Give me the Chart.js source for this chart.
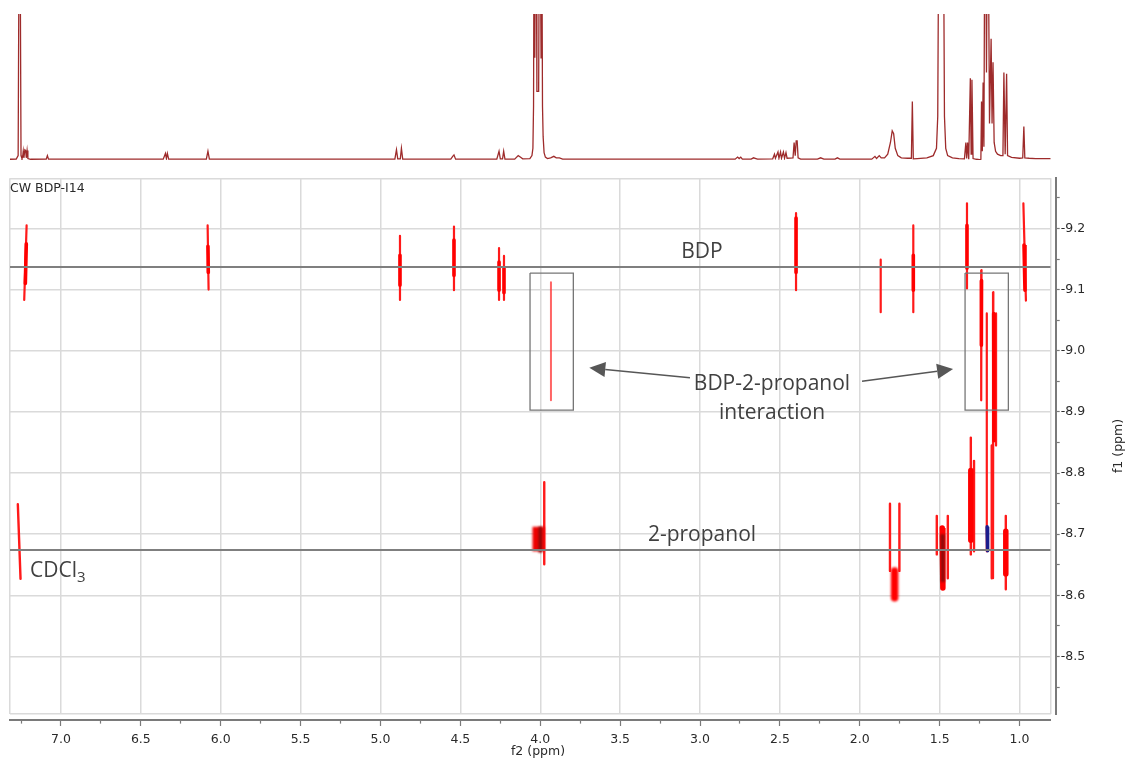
<!DOCTYPE html>
<html>
<head>
<meta charset="utf-8">
<title>DOSY – CW BDP-I14</title>
<script src="https://cdn.jsdelivr.net/npm/chart.js@4.4.1/dist/chart.umd.min.js"></script>
<style>
  html, body { margin: 0; padding: 0; background: #ffffff; }
  #wrap { position: relative; width: 1125px; height: 758px; overflow: hidden; }
  #spec { position: absolute; left: 0; top: 0; }
  #dosy { position: absolute; left: 0; top: 0; }
  .note { position: absolute; white-space: nowrap; line-height: 21px; font-family: "Open Sans", sans-serif;
          font-size: 21px; color: #404040; }
  .center { transform: translateX(-50%); }
  .small { position: absolute; white-space: nowrap; font-family: "DejaVu Sans", sans-serif; color: #2a2a2a;
           font-size: 12.5px; line-height: 14px; }
  sub { font-size: 15px; vertical-align: -5px; line-height: 0; }
</style>
</head>
<body>
<div id="wrap">
  <canvas id="spec" width="1125" height="172"></canvas>
  <canvas id="dosy" width="1125" height="758"></canvas>

  <div class="small" style="left:10px; top:181px;">CW BDP-I14</div>
  <div class="note center" style="left:702px; top:240px;">BDP</div>
  <div class="note center" style="left:702px; top:523px;">2-propanol</div>
  <div class="note center" style="left:772px; top:372px;">BDP-2-propanol</div>
  <div class="note center" style="left:772px; top:401px;">interaction</div>
  <div class="note" style="left:30px; top:559px;">CDCl<sub>3</sub></div>
  <div class="small" style="left:498px; width:80px; text-align:center; top:744px;">f2 (ppm)</div>
  <div class="small" style="left:1078px; width:80px; text-align:center; top:439px; transform:rotate(-90deg);">f1 (ppm)</div>
</div>

<script>
// ---- axis ranges and tick labels ----
const f2Min = 0.805, f2Max = 7.319;          // chemical shift (ppm), drawn high -> low
const f1Min = -9.282, f1Max = -8.406;        // log diffusion coefficient
const f2Major = [7.0, 6.5, 6.0, 5.5, 5.0, 4.5, 4.0, 3.5, 3.0, 2.5, 2.0, 1.5, 1.0];
const f2Minor = [7.25, 6.75, 6.25, 5.75, 5.25, 4.75, 4.25, 3.75, 3.25, 2.75, 2.25, 1.75, 1.25];
const f1Major = [-9.2, -9.1, -9.0, -8.9, -8.8, -8.7, -8.6, -8.5];
const f1Minor = [-9.25, -9.15, -9.05, -8.95, -8.85, -8.75, -8.65, -8.55, -8.45];

// ---- 1H projection (ppm, relative intensity; >100 runs off the top) ----
const specPpm = [
  7.319, 7.280, 7.268, 7.262, 7.256, 7.250, 7.244, 7.240, 7.236, 7.232, 7.226, 7.221, 7.217, 7.212, 7.207, 7.190,
  7.092, 7.085, 7.078, 6.360, 6.346, 6.340, 6.334, 6.326, 6.090, 6.080, 6.071,
  4.910, 4.900, 4.892, 4.876, 4.869, 4.861, 4.560, 4.548, 4.540, 4.530,
  4.272, 4.258, 4.250, 4.236, 4.229, 4.221, 4.160, 4.138, 4.125, 4.110,
  4.065, 4.052, 4.046, 4.042, 4.039, 4.034, 4.030, 4.025, 4.021, 4.010, 4.006, 4.000, 3.995, 3.990, 3.986, 3.982,
  3.976, 3.968, 3.955, 3.935, 3.915, 3.900, 3.880, 3.860,
  2.780, 2.765, 2.755, 2.745, 2.735, 2.680, 2.665, 2.650, 2.640,
  2.545, 2.534, 2.528, 2.512, 2.506, 2.496, 2.490, 2.478, 2.471, 2.462, 2.455,
  2.418, 2.411, 2.404, 2.398, 2.392, 2.386, 2.370, 2.265, 2.245, 2.225, 2.155, 2.140, 2.125,
  1.925, 1.905, 1.895, 1.878, 1.866, 1.845, 1.825, 1.808, 1.797, 1.788, 1.778, 1.762, 1.740,
  1.700, 1.677, 1.671, 1.665, 1.640, 1.580, 1.540, 1.520, 1.512, 1.506, 1.476, 1.470, 1.462, 1.450, 1.420, 1.380,
  1.345, 1.336, 1.331, 1.325, 1.318, 1.308, 1.303, 1.298, 1.291, 1.270, 1.250,
  1.242, 1.238, 1.233, 1.228, 1.223, 1.218, 1.212, 1.207, 1.202, 1.196, 1.188, 1.178, 1.172, 1.166, 1.159, 1.150,
  1.138, 1.118, 1.104, 1.098, 1.090, 1.081, 1.075, 1.050, 1.000, 0.980, 0.973, 0.967, 0.940, 0.900, 0.805
];
const specInt = [
  0.5, 0.6, 3, 160, 160, 3, 1, 2, 6, 1.5, 7, 6.5, 1.5, 6.5, 1, 0.5,
  0.6, 3, 0.6, 0.6, 4.5, 1, 4.5, 0.6, 0.6, 6, 0.6,
  0.6, 7, 0.8, 0.8, 8, 0.6, 0.6, 2.5, 3.5, 0.6,
  0.6, 6, 0.8, 0.8, 6, 0.6, 0.6, 3, 2, 0.8,
  1, 3, 8, 37, 160, 70, 160, 160, 47, 47, 160, 160, 70, 160, 37, 16,
  5, 2, 1, 1.5, 2.5, 1.5, 1.5, 0.6,
  0.6, 2, 1, 2, 0.6, 0.6, 1.5, 1, 0.6,
  0.8, 4, 1.2, 5.5, 1.2, 5.5, 1.2, 5.5, 1.2, 5, 1.2,
  1.5, 12, 3, 13, 13, 1.5, 0.6, 0.6, 1.5, 0.6, 0.6, 1.5, 0.6,
  0.6, 2.5, 1, 3, 1.5, 1.5, 4, 12, 20, 18, 8, 3, 1.5,
  1.2, 1.2, 40, 0.8, 1, 1.5, 3, 8, 30, 160, 160, 30, 8, 3, 1.5, 1,
  0.8, 12, 1, 12, 0.5, 56, 4, 55, 1, 0.5, 0.3,
  0.5, 40, 6, 53, 9, 160, 160, 60, 160, 160, 25, 83, 25, 67, 12, 6,
  4, 3, 3, 60, 4, 59, 3, 1.8, 1.2, 1.5, 23, 1.5, 1.2, 1, 1
];

// ---- DOSY cross peaks: [ppm top, logD top, ppm bottom, logD bottom] ----
const bdpPeaks = [
  [7.215, -9.205, 7.230, -9.083],
  [6.082, -9.205, 6.076, -9.100],
  [4.878, -9.188, 4.878, -9.083],
  [4.540, -9.203, 4.540, -9.099],
  [4.258, -9.168, 4.258, -9.083],
  [4.227, -9.155, 4.227, -9.083],
  [2.399, -9.225, 2.399, -9.099],
  [1.869, -9.149, 1.869, -9.063],
  [1.665, -9.205, 1.665, -9.063],
  [1.329, -9.241, 1.329, -9.102],
  [0.976, -9.241, 0.960, -9.082]
];
const bdpCores = [
  [7.217, -9.175, 7.223, -9.110],
  [6.080, -9.171, 6.078, -9.128],
  [4.878, -9.156, 4.878, -9.107],
  [4.540, -9.181, 4.540, -9.123],
  [4.258, -9.145, 4.258, -9.099],
  [4.227, -9.136, 4.227, -9.095],
  [2.399, -9.217, 2.399, -9.128],
  [1.665, -9.156, 1.665, -9.099],
  [1.329, -9.205, 1.329, -9.135],
  [0.972, -9.173, 0.966, -9.099]
];
const complexPeaks = [
  [1.238, -9.132, 1.240, -8.919],
  [1.205, -9.061, 1.205, -8.672],
  [1.164, -9.096, 1.166, -8.628],
  [1.147, -9.061, 1.147, -8.845]
];
const complexCores = [
  [1.238, -9.115, 1.239, -9.009],
  [1.162, -9.061, 1.160, -8.853]
];
const complexFaint = [
  [3.933, -9.112, 3.933, -8.919]
];
const propanolPeaks = [
  [7.270, -8.749, 7.253, -8.627],
  [3.975, -8.785, 3.975, -8.651],
  [1.811, -8.750, 1.811, -8.640],
  [1.752, -8.750, 1.752, -8.640],
  [1.518, -8.730, 1.518, -8.667],
  [1.449, -8.730, 1.449, -8.628],
  [1.305, -8.858, 1.305, -8.667],
  [1.285, -8.820, 1.285, -8.672],
  [1.174, -8.845, 1.174, -8.628],
  [1.086, -8.730, 1.086, -8.610]
];
const propanolCores = [
  [1.305, -8.804, 1.305, -8.690],
  [1.086, -8.705, 1.086, -8.635],
  [1.484, -8.710, 1.480, -8.612]
];
const propanolLobes = [
  [1.782, -8.640, 1.782, -8.596]
];
const propanolWide = [
  [4.011, -8.712, 4.011, -8.672]
];
const propanolDark = [
  [4.000, -8.712, 4.000, -8.670],
  [1.484, -8.700, 1.480, -8.622]
];
const negativePeaks = [
  [1.203, -8.712, 1.200, -8.673]
];

// ---- component levels and annotation geometry ----
const bdpLevel = -9.137;
const propanolLevel = -8.674;
const complexBoxes = [[4.064, 3.793, -9.127, -8.903], [1.341, 1.070, -9.127, -8.903]];
const arrowTails = [[3.063, -8.956], [1.986, -8.950]];
const arrowTips = [[3.693, -8.972], [1.416, -8.970]];

// ---------------------------------------------------------------
Chart.defaults.font.family = '"DejaVu Sans", sans-serif';
Chart.defaults.animation = false;

const segs = list => list.flatMap(p => [{x: p[0], y: p[1]}, {x: p[2], y: p[3]}, {x: p[2], y: null}]);
const peakSet = (list, color, width, order, cap, blur) => ({
  data: segs(list), showLine: true, borderColor: color, borderWidth: width, pointRadius: 0,
  borderCapStyle: cap || 'round', spanGaps: false, order: order, soft: blur || 0.6,
  xAxisID: 'x', yAxisID: 'y'
});
const levelSet = level => ({
  data: [{x: f2Max, y: level}, {x: f2Min, y: level}], showLine: true, borderColor: '#7f7f7f',
  borderWidth: 2, pointRadius: 0, order: 0, xAxisID: 'x', yAxisID: 'y'
});
const boxSet = () => ({
  data: complexBoxes.flatMap(b => [{x: b[0], y: b[2]}, {x: b[1], y: b[2]}, {x: b[1], y: b[3]},
                                   {x: b[0], y: b[3]}, {x: b[0], y: b[2]}, {x: b[0], y: null}]),
  showLine: true, borderColor: '#767676', borderWidth: 1.3, pointRadius: 0, spanGaps: false,
  order: 0, xAxisID: 'x', yAxisID: 'y'
});

// soft edges on the contour traces
const softPeaks = {
  id: 'softPeaks',
  beforeDatasetDraw(chart, args) {
    const b = chart.data.datasets[args.index].soft;
    if (b) { chart.ctx.save(); chart.ctx.filter = 'blur(' + b + 'px)'; }
  },
  afterDatasetDraw(chart, args) {
    if (chart.data.datasets[args.index].soft) { chart.ctx.restore(); }
  }
};

// pointer arrows from the note to the boxed peaks
const arrows = {
  id: 'arrows',
  afterDatasetsDraw(chart) {
    const {ctx, scales: {x, y}} = chart;
    ctx.save();
    ctx.strokeStyle = '#575757';
    ctx.fillStyle = '#575757';
    ctx.lineWidth = 1.5;
    arrowTails.forEach((t, i) => {
      const x0 = x.getPixelForValue(t[0]), y0 = y.getPixelForValue(t[1]);
      const x1 = x.getPixelForValue(arrowTips[i][0]), y1 = y.getPixelForValue(arrowTips[i][1]);
      const a = Math.atan2(y1 - y0, x1 - x0);
      const L = 16, W = 7.5;
      const bx = x1 - L * Math.cos(a), by = y1 - L * Math.sin(a);
      ctx.beginPath(); ctx.moveTo(x0, y0); ctx.lineTo(bx, by); ctx.stroke();
      ctx.beginPath();
      ctx.moveTo(x1, y1);
      ctx.lineTo(bx + W * Math.sin(a), by - W * Math.cos(a));
      ctx.lineTo(bx - W * Math.sin(a), by + W * Math.cos(a));
      ctx.closePath(); ctx.fill();
    });
    ctx.restore();
  }
};

// ---- 1H projection on top ----
new Chart(document.getElementById('spec'), {
  type: 'line',
  data: {
    datasets: [{
      data: specPpm.map((p, i) => ({x: p, y: specInt[i]})),
      borderColor: '#9e2b2b', borderWidth: 1.3, pointRadius: 0, tension: 0
    }]
  },
  options: {
    responsive: false, animation: false,
    layout: {padding: {left: 10, right: 74.3, top: 14, bottom: 12}},
    plugins: {legend: {display: false}, tooltip: {enabled: false}},
    scales: {
      x: {type: 'linear', min: f2Min, max: f2Max, reverse: true, display: false},
      y: {min: 0, max: 100, display: false}
    }
  }
});

// ---- DOSY map ----
const axisColor = '#7a7a7a';
const gridColor = '#dadada';
const isStep = (v, s) => Math.abs(v / s - Math.round(v / s)) < 1e-6;

new Chart(document.getElementById('dosy'), {
  type: 'scatter',
  data: {
    datasets: [
      levelSet(bdpLevel),
      levelSet(propanolLevel),
      boxSet(),
      peakSet(bdpPeaks, '#ff1a1a', 2.2, 5),
      peakSet(bdpCores, '#ff0000', 3.6, 4),
      peakSet(complexPeaks, '#ff1a1a', 2.2, 5),
      peakSet(complexCores, '#ff0000', 3.6, 4),
      peakSet(complexFaint, 'rgba(255,50,50,0.75)', 2, 5),
      peakSet(propanolPeaks, '#ff1a1a', 2.4, 5),
      peakSet(propanolWide, '#ee0000', 12, 4, 'butt', 1.3),
      peakSet(propanolLobes, '#ff0000', 7.5, 4, 'round', 0.9),
      peakSet(propanolCores, '#ff0000', 5.5, 4),
      peakSet(propanolDark, '#8c0a0a', 3.5, 3, 'butt', 0.9),
      peakSet(negativePeaks, '#1c1c8c', 3.5, 2)
    ]
  },
  plugins: [softPeaks, arrows],
  options: {
    responsive: false, animation: false,
    layout: {padding: {left: 10, top: 178.3, right: 19.3, bottom: 8}},
    plugins: {legend: {display: false}, tooltip: {enabled: false}},
    scales: {
      x: {
        type: 'linear', position: 'bottom', min: f2Min, max: f2Max, reverse: true, weight: 0,
        afterBuildTicks: s => { s.ticks = [f2Max, ...f2Major, f2Min].map(v => ({value: v})); },
        grid: {color: gridColor, lineWidth: 1.5, drawTicks: true, tickLength: 6, tickColor: 'rgba(0,0,0,0)'},
        border: {display: false},
        ticks: {display: false},
        afterFit: s => { s.height = 6; }
      },
      x2: {
        type: 'linear', position: 'bottom', min: f2Min, max: f2Max, reverse: true, weight: 1,
        afterBuildTicks: s => {
          s.ticks = [...f2Major, ...f2Minor].sort((a, b) => b - a).map(v => ({value: v}));
        },
        grid: {
          drawOnChartArea: false, drawTicks: true, tickLength: 6, tickColor: axisColor, tickWidth: 1.2,
          tickBorderDash: c => (c.tick && isStep(c.tick.value, 0.5)) ? [] : [2.6, 20]
        },
        border: {display: true, color: axisColor, width: 2},
        ticks: {
          autoSkip: false, maxRotation: 0, minRotation: 0, padding: 6, color: '#2a2a2a',
          font: {size: 12.5},
          callback: v => isStep(v, 0.5) ? v.toFixed(1) : ''
        },
        afterFit: s => { s.height = 30; }
      },
      y: {
        type: 'linear', position: 'right', min: f1Min, max: f1Max, reverse: true, weight: 0,
        afterBuildTicks: s => { s.ticks = [f1Max, ...f1Major.slice().reverse(), f1Min].map(v => ({value: v})); },
        grid: {color: gridColor, lineWidth: 1.5, drawTicks: true, tickLength: 5, tickColor: 'rgba(0,0,0,0)'},
        border: {display: false},
        ticks: {display: false},
        afterFit: s => { s.width = 5; }
      },
      y2: {
        type: 'linear', position: 'right', min: f1Min, max: f1Max, reverse: true, weight: 1,
        afterBuildTicks: s => {
          s.ticks = [...f1Major, ...f1Minor].sort((a, b) => b - a).map(v => ({value: v}));
        },
        grid: {drawOnChartArea: false, drawTicks: true, tickLength: 4, tickColor: axisColor, tickWidth: 1.2},
        border: {display: true, color: axisColor, width: 2},
        ticks: {
          autoSkip: false, padding: 1, color: '#2a2a2a', font: {size: 12.5},
          callback: v => isStep(v, 0.1) ? v.toFixed(1) : ''
        },
        afterFit: s => { s.width = 50; }
      }
    }
  }
});
</script>
</body>
</html>
